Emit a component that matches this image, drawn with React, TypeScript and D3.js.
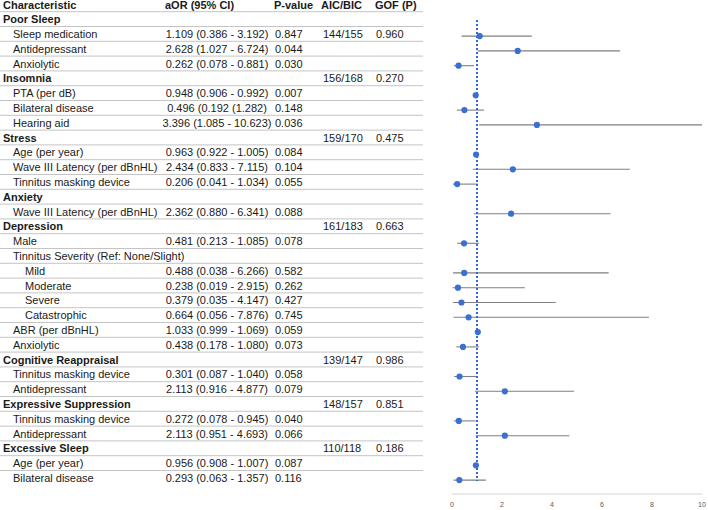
import React from 'react'
import * as d3 from 'd3'

// table rows (header row is drawn separately)
const characteristics = [
  'Poor Sleep', 'Sleep medication', 'Antidepressant', 'Anxiolytic',
  'Insomnia', 'PTA (per dB)', 'Bilateral disease', 'Hearing aid',
  'Stress', 'Age (per year)', 'Wave III Latency (per dBnHL)', 'Tinnitus masking device',
  'Anxiety', 'Wave III Latency (per dBnHL)',
  'Depression', 'Male', 'Tinnitus Severity (Ref: None/Slight)', 'Mild', 'Moderate', 'Severe', 'Catastrophic', 'ABR (per dBnHL)', 'Anxiolytic',
  'Cognitive Reappraisal', 'Tinnitus masking device', 'Antidepressant',
  'Expressive Suppression', 'Tinnitus masking device', 'Antidepressant',
  'Excessive Sleep', 'Age (per year)', 'Bilateral disease',
]
// 0 = outcome (bold), 1 = predictor, 2 = sub level
const levels = [0, 1, 1, 1, 0, 1, 1, 1, 0, 1, 1, 1, 0, 1, 0, 1, 1, 2, 2, 2, 2, 1, 1, 0, 1, 1, 0, 1, 1, 0, 1, 1]

const aor = [null, 1.109, 2.628, 0.262, null, 0.948, 0.496, 3.396, null, 0.963, 2.434, 0.206, null, 2.362,
  null, 0.481, null, 0.488, 0.238, 0.379, 0.664, 1.033, 0.438, null, 0.301, 2.113, null, 0.272, 2.113, null, 0.956, 0.293]
const ciLow = [null, 0.386, 1.027, 0.078, null, 0.906, 0.192, 1.085, null, 0.922, 0.833, 0.041, null, 0.880,
  null, 0.213, null, 0.038, 0.019, 0.035, 0.056, 0.999, 0.178, null, 0.087, 0.916, null, 0.078, 0.951, null, 0.908, 0.063]
const ciHigh = [null, 3.192, 6.724, 0.881, null, 0.992, 1.282, 10.623, null, 1.005, 7.115, 1.034, null, 6.341,
  null, 1.085, null, 6.266, 2.915, 4.147, 7.876, 1.069, 1.080, null, 1.040, 4.877, null, 0.945, 4.693, null, 1.007, 1.357]

const aorText = ['', '1.109 (0.386 - 3.192)', '2.628 (1.027 - 6.724)', '0.262 (0.078 - 0.881)',
  '', '0.948 (0.906 - 0.992)', '0.496 (0.192 (1.282)', '3.396 (1.085 - 10.623)',
  '', '0.963 (0.922 - 1.005)', '2.434 (0.833 - 7.115)', '0.206 (0.041 - 1.034)',
  '', '2.362 (0.880 - 6.341)',
  '', '0.481 (0.213 - 1.085)', '', '0.488 (0.038 - 6.266)', '0.238 (0.019 - 2.915)', '0.379 (0.035 - 4.147)', '0.664 (0.056 - 7.876)', '1.033 (0.999 - 1.069)', '0.438 (0.178 - 1.080)',
  '', '0.301 (0.087 - 1.040)', '2.113 (0.916 - 4.877)',
  '', '0.272 (0.078 - 0.945)', '2.113 (0.951 - 4.693)',
  '', '0.956 (0.908 - 1.007)', '0.293 (0.063 - 1.357)']
const pValues = ['', '0.847', '0.044', '0.030', '', '0.007', '0.148', '0.036', '', '0.084', '0.104', '0.055', '', '0.088',
  '', '0.078', '', '0.582', '0.262', '0.427', '0.745', '0.059', '0.073', '', '0.058', '0.079', '', '0.040', '0.066', '', '0.087', '0.116']
const aicBic = ['', '144/155', '', '', '156/168', '', '', '', '159/170', '', '', '', '', '',
  '161/183', '', '', '', '', '', '', '', '', '139/147', '', '', '148/157', '', '', '110/118', '', '']
const gof = ['', '0.960', '', '', '0.270', '', '', '', '0.475', '', '', '', '', '',
  '0.663', '', '', '', '', '', '', '', '', '0.986', '', '', '0.851', '', '', '0.186', '', '']

const headers = ['Characteristic', 'aOR (95% CI)', 'P-value', 'AIC/BIC', 'GOF (P)']
const xTicks = [0, 2, 4, 6, 8, 10]

const W = 708
const H = 510
const font = '"Liberation Sans", Arial, sans-serif'

export default function App() {
  const n = characteristics.length
  const y = d3.scaleLinear().domain([0, n]).range([4.5, 4.5 + n * 14.8])
  const x = d3.scaleLinear().domain([0, 10]).range([452, 702]).clamp(true)
  const rows = d3.range(n)
  const indent = [3, 13, 25]
  const headerX = [3, 165, 274, 321, 375]

  return (
    <>
      <style>{'body{margin:0}'}</style>
      <svg width={W} height={H} style={{ display: 'block', fontFamily: font }}>
        <rect width={W} height={H} fill="#fff" />
        {/* table separators */}
        {d3.range(n).map(i => (
          <line key={'sep' + i} x1={0} x2={423} y1={y(i) + 7.2} y2={y(i) + 7.2} stroke="#c4c4c4" strokeWidth={1} />
        ))}
        {headers.map((h, i) => (
          <text key={h} x={headerX[i]} y={y(0) + 1} dy="0.35em" fontSize={11} fontWeight="bold" fill="#1a1a1a">{h}</text>
        ))}
        {rows.map(i => {
          const yy = y(i + 1)
          return (
            <g key={'r' + i} fontSize={11} fill="#1a1a1a">
              <text x={indent[levels[i]]} y={yy} dy="0.35em" fontWeight={levels[i] === 0 ? 'bold' : 'normal'}>{characteristics[i]}</text>
              <text x={217} y={yy} dy="0.35em" textAnchor="middle">{aorText[i]}</text>
              <text x={275} y={yy} dy="0.35em">{pValues[i]}</text>
              <text x={323} y={yy} dy="0.35em">{aicBic[i]}</text>
              <text x={376} y={yy} dy="0.35em">{gof[i]}</text>
            </g>
          )
        })}
        {/* forest plot */}
        <line x1={x(0)} x2={x(10)} y1={494} y2={494} stroke="#d4d4d4" strokeWidth={1} />
        {xTicks.map(t => (
          <text key={'t' + t} x={x(t)} y={505} dy="0.35em" textAnchor="middle" fontSize={7} fill="#595959">{t}</text>
        ))}
        {rows.filter(i => aor[i] !== null).map(i => (
          <line key={'ci' + i} x1={x(ciLow[i] as number)} x2={x(ciHigh[i] as number)} y1={y(i + 1) + 2} y2={y(i + 1) + 2} stroke="#7f7f7f" strokeWidth={1.1} />
        ))}
        <line x1={x(1)} x2={x(1)} y1={20} y2={481} stroke="#3169d6" strokeWidth={2} strokeDasharray="2,2" />
        {rows.filter(i => aor[i] !== null).map(i => (
          <circle key={'pt' + i} cx={x(aor[i] as number)} cy={y(i + 1) + 2} r={3.1} fill="#3a6fd3" />
        ))}
      </svg>
    </>
  )
}
